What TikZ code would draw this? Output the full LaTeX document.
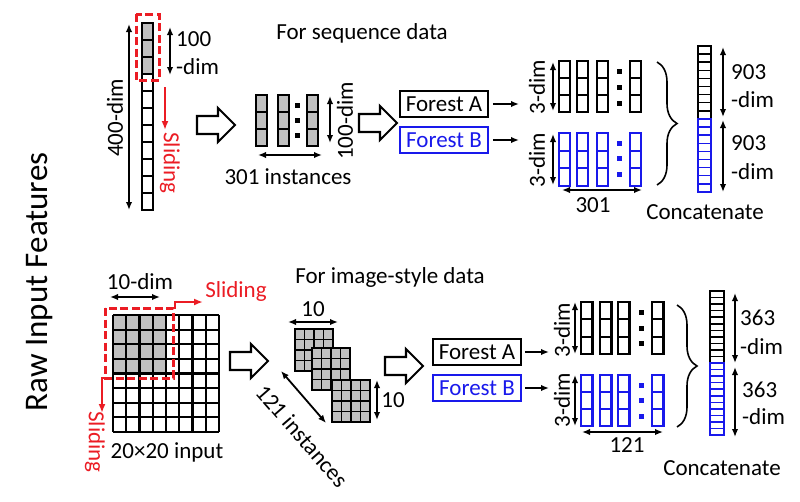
\documentclass[tikz,border=0pt]{standalone}
\usepackage{fontspec}
\setmainfont{Carlito}
\usetikzlibrary{arrows.meta,decorations.pathreplacing}
\definecolor{slidered}{RGB}{235,28,36}
\definecolor{forestblue}{RGB}{25,25,235}
\definecolor{cellgray}{RGB}{192,192,192}
\newcommand{\patch}[2]{
	\filldraw[cellbox,fill=cellgray] (#1,#2) rectangle ++(38,42);
	\foreach \k in {1,2,3} {
		\draw[gridline] (#1+\k*9.5,#2) -- ++(0,42);
		\draw[gridline] (#1,#2+\k*10.5) -- ++(38,0);
	}
}
\newcommand{\blockarrow}[2]{
	\draw[bigarrow] (#1,#2-9) -- ++(21,0) -- ++(0,-8) -- (#1+38,#2) -- (#1+21,#2+17) -- ++(0,-8) -- (#1,#2+9) -- cycle;
}
\tikzset{
	lbl/.style={font=\fontsize{23}{25}\selectfont, inner sep=0pt},
	dimarr/.style={{Latex[length=8pt,width=6.5pt]}-{Latex[length=8pt,width=6.5pt]}, line width=1.8pt},
	flowarr/.style={-{Latex[length=8pt,width=6.5pt]}, line width=1.8pt},
	slidearr/.style={-{Latex[length=9pt,width=7pt]}, line width=1.8pt, slidered},
	cellbox/.style={line width=2.1pt},
	gridline/.style={line width=1.5pt},
	thincell/.style={line width=1.5pt},
	slidebox/.style={slidered, line width=3pt, dash pattern=on 8pt off 3.5pt},
	bigarrow/.style={line width=2.1pt, line join=miter, fill=white},
	forestbox/.style={draw, line width=1.9pt, minimum width=88pt, minimum height=26pt, inner sep=0pt, font=\fontsize{23}{25}\selectfont},
}

\begin{document}
\begin{tikzpicture}[x=1pt,y=-1pt]
	\useasboundingbox (0,0) rectangle (800,501);
	\node[rotate=90, font=\fontsize{33}{36}\selectfont] (rawlabel) at (40,282) {Raw Input Features};

	% sequence data
	\foreach \k in {0,1,2} \filldraw[cellbox,fill=cellgray] (142,23+17*\k) rectangle ++(11,17);
	\foreach \k in {3,...,10} \draw[cellbox] (142,23+17*\k) rectangle ++(11,17);
	\draw[slidebox] (136,14) rectangle (159,80);
	\draw[dimarr] (129,24) -- (129,210);
	\node[lbl, rotate=90] (seqlen) at (115,118) {400-dim};
	\draw[dimarr] (170,27) -- (170,75);
	\node[lbl, anchor=west] (winlen) at (176,39) {100};
	\node[lbl, anchor=west] (winlendim) at (176,67) {-dim};
	\draw[slidearr] (165,87) -- (165,130);
	\node[lbl, rotate=-90, text=slidered] (seqslide) at (170,163) {Sliding};
	\blockarrow{197}{125}

	\node[lbl] (seqtitle) at (362,33) {For sequence data};
	\foreach \x in {256,278,307} \foreach \k in {0,1,2}
		\filldraw[cellbox,fill=cellgray] (\x,95+17*\k) rectangle ++(11,17);
	\foreach \y in {105,120,135} \fill (295,\y-2.5) rectangle ++(5,5);
	\draw[dimarr] (330,96) -- (330,143);
	\node[lbl, rotate=90] (instlen) at (345,121) {100-dim};
	\draw[dimarr] (258,155) -- (322,155);
	\node[lbl] (seqinst) at (288,177) {301 instances};
	\blockarrow{359}{123}

	\node[forestbox] (seqfa) at (444,104) {Forest A};
	\node[forestbox, forestblue] (seqfb) at (444,140) {Forest B};
	\coordinate (seqouta) at (519,104);
	\coordinate (seqoutb) at (519,140);
	\draw[flowarr, shorten <=4pt] (seqfa.east) -- (seqouta);
	\draw[flowarr, shorten <=4pt] (seqfb.east) -- (seqoutb);

	\foreach \x in {559,577,597,630} \foreach \k in {0,1,2}
		\draw[cellbox] (\x,61+17*\k) rectangle ++(11,17);
	\foreach \y in {71,87,103} \fill (617,\y-2.5) rectangle ++(5,5);
	\foreach \x in {559,577,597,630} \foreach \k in {0,1,2}
		\draw[cellbox, forestblue] (\x,133+17.7*\k) rectangle ++(11,17.7);
	\foreach \y in {143,158,174} \fill[forestblue] (617,\y-2.5) rectangle ++(5,5);
	\draw[dimarr] (553,62) -- (553,111);
	\node[lbl, rotate=90] (seqouta3) at (537,87) {3-dim};
	\draw[dimarr] (553,134) -- (553,185);
	\node[lbl, rotate=90] (seqoutb3) at (537,160) {3-dim};
	\draw[dimarr] (562,190) -- (642,190);
	\node[lbl] (seqcount) at (593,205) {301};
	\draw[line width=1.6pt, decorate, decoration={brace, amplitude=20pt}] (657,62) -- (657,185);

	\foreach \k in {0,...,8} \draw[thincell] (698,46+8.1*\k) rectangle ++(13,8.1);
	\foreach \k in {0,...,8} \draw[thincell, forestblue] (698,119+8.1*\k) rectangle ++(13,8.1);
	\draw[dimarr] (723,47) -- (723,117);
	\draw[dimarr] (723,120) -- (723,192);
	\node[lbl, anchor=west] (seqcata) at (731,72) {903};
	\node[lbl, anchor=west] (seqcatadim) at (731,100) {-dim};
	\node[lbl, anchor=west] (seqcatb) at (731,143) {903};
	\node[lbl, anchor=west] (seqcatbdim) at (731,172) {-dim};
	\node[lbl] (seqconcat) at (705,212) {Concatenate};

	% image-style data
	\fill[cellgray] (113,315) rectangle ++(53,58.5);
	\foreach \k in {0,...,8} {
		\draw[cellbox] (113+\k*13.25,315) -- (113+\k*13.25,432);
		\draw[cellbox] (113,315+\k*14.625) -- (219,315+\k*14.625);
	}
	\draw[slidebox] (105,308) rectangle (173,378);
	\draw[dimarr] (110,297) -- (160,297);
	\node[lbl] (imgwin) at (140,282) {10-dim};
	\draw[slidearr] (175,309) -- (175,302) -- (203,302);
	\node[lbl, text=slidered] (imgslideh) at (236,291) {Sliding};
	\draw[slidearr] (105,378) -- (102,378) -- (102,413);
	\node[lbl, rotate=-90, text=slidered] (imgslidev) at (95,442) {Sliding};
	\node[lbl] (imgsize) at (167,452) {20×20 input};
	\blockarrow{230}{361}

	\node[lbl] (imgtitle) at (390,277) {For image-style data};
	\patch{295}{329}
	\patch{312}{348}
	\patch{332}{380}
	\draw[dimarr] (288,322) -- (338,322);
	\node[lbl] (patchw) at (313,309) {10};
	\draw[dimarr] (377,380) -- (377,420);
	\node[lbl] (patchh) at (393,400) {10};
	\draw[dimarr] (281,371) -- (326,423);
	\node[lbl, rotate=-49] (imginst) at (302,436) {121 instances};
	\blockarrow{385}{366}

	\node[forestbox] (imgfa) at (477,352) {Forest A};
	\node[forestbox, forestblue] (imgfb) at (477,388) {Forest B};
	\coordinate (imgouta) at (549,352);
	\coordinate (imgoutb) at (549,388);
	\draw[flowarr, shorten <=3pt] (imgfa.east) -- (imgouta);
	\draw[flowarr, shorten <=3pt] (imgfb.east) -- (imgoutb);

	\foreach \x in {581,600,618,652} \foreach \k in {0,1,2}
		\draw[cellbox] (\x,302+17.3*\k) rectangle ++(11.5,17.3);
	\foreach \y in {312,328,343} \fill (639,\y-2.5) rectangle ++(5,5);
	\foreach \x in {581,600,618,652} \foreach \k in {0,1,2}
		\draw[cellbox, forestblue] (\x,375+17*\k) rectangle ++(11.5,17);
	\foreach \y in {385,400,416} \fill[forestblue] (639,\y-2.5) rectangle ++(5,5);
	\draw[dimarr] (575,302) -- (575,354);
	\node[lbl, rotate=90] (imgouta3) at (562,330) {3-dim};
	\draw[dimarr] (575,375) -- (575,426);
	\node[lbl, rotate=90] (imgoutb3) at (562,400) {3-dim};
	\draw[dimarr] (582,432) -- (663,432);
	\node[lbl] (imgcount) at (627,445) {121};
	\draw[line width=1.6pt, decorate, decoration={brace, amplitude=20pt}] (677,305) -- (677,427);

	\foreach \k in {0,...,10} \draw[thincell] (710,291+6.55*\k) rectangle ++(14,6.55);
	\foreach \k in {0,...,10} \draw[thincell, forestblue] (710,363+6.55*\k) rectangle ++(14,6.55);
	\draw[dimarr] (735,293) -- (735,363);
	\draw[dimarr] (735,367) -- (735,437);
	\node[lbl, anchor=west] (imgcata) at (740,318) {363};
	\node[lbl, anchor=west] (imgcatadim) at (740,347) {-dim};
	\node[lbl, anchor=west] (imgcatb) at (742,390) {363};
	\node[lbl, anchor=west] (imgcatbdim) at (742,417) {-dim};
	\node[lbl] (imgconcat) at (722,468) {Concatenate};
\end{tikzpicture}
\end{document}
